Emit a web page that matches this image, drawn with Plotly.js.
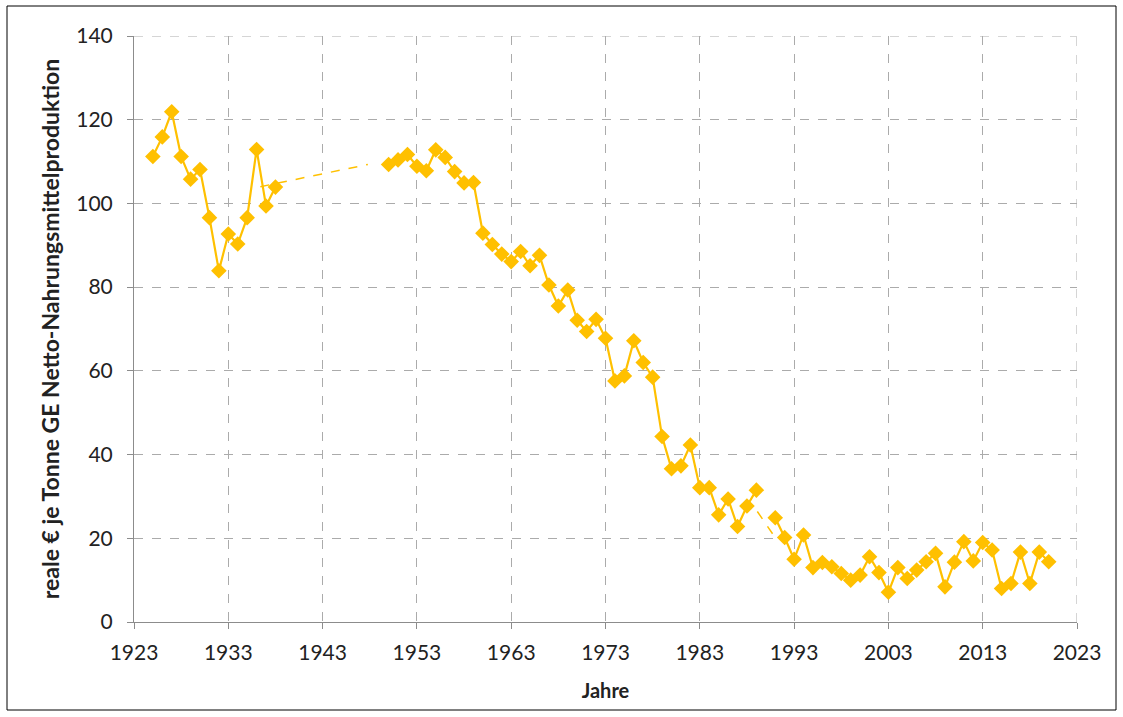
<!DOCTYPE html>
<html>
<head>
<meta charset="utf-8">
<script src="https://cdn.plot.ly/plotly-3.0.1.min.js"></script>
<style>
html,body{margin:0;padding:0;background:#fff;}
#chart{width:1123px;height:717px;}
</style>
</head>
<body>
<div id="chart"></div>
<script>
// Years (x values) of the main series
const years = [
  1925,1926,1927,1928,1929,1930,1931,1932,1933,1934,1935,1936,1937,1938,
  1939,1940,1941,1942,1943,1944,1945,1946,1947,1948,1949,
  1950,1951,1952,1953,1954,1955,1956,1957,1958,1959,
  1960,1961,1962,1963,1964,1965,1966,1967,1968,1969,
  1970,1971,1972,1973,1974,1975,1976,1977,1978,1979,
  1980,1981,1982,1983,1984,1985,1986,1987,1988,1989,
  1990,1991,1992,1993,1994,1995,1996,1997,1998,1999,
  2000,2001,2002,2003,2004,2005,2006,2007,2008,2009,
  2010,2011,2012,2013,2014,2015,2016,2017,2018,2019,2020
];
// real € per tonne GE net food production (null = no data)
const values = [
  111.2,115.9,121.9,111.2,105.8,108.1,96.6,83.9,92.7,90.3,96.6,112.9,99.4,103.9,
  null,null,null,null,null,null,null,null,null,null,null,
  109.3,110.4,111.7,108.9,107.8,112.8,111.0,107.6,104.9,105.0,
  92.9,90.2,87.9,86.1,88.5,85.1,87.6,80.5,75.5,79.3,
  72.1,69.4,72.3,67.8,57.6,58.8,67.2,62.0,58.5,44.3,
  36.6,37.3,42.3,32.1,32.1,25.6,29.4,22.8,27.7,31.5,
  null,24.9,20.2,15.0,20.8,13.0,14.2,13.2,11.6,10.0,
  11.2,15.6,11.8,7.1,13.0,10.4,12.4,14.4,16.4,8.4,
  14.3,19.2,14.6,19.0,17.2,8.0,9.2,16.7,9.2,16.7,14.4
];
// Dashed bridging segments over the data gaps
const bridgeWarYears = [1936.4, 1947.8];
const bridgeWarValues = [104.0, 109.3];
const bridgeReunifYears = [1989.1, 1990.8];
const bridgeReunifValues = [26.4, 20.8];

const xTicks = [1923,1933,1943,1953,1963,1973,1983,1993,2003,2013,2023];
const yTicks = [0,20,40,60,80,100,120,140];

const gold = '#FFC000';
const fontFam = 'Lato, "Open Sans", sans-serif';

const traces = [
  {x: bridgeWarYears, y: bridgeWarValues, mode: 'lines', type: 'scatter',
   line: {color: gold, width: 1.5, dash: 'dash'}, hoverinfo: 'skip', showlegend: false},
  {x: bridgeReunifYears, y: bridgeReunifValues, mode: 'lines', type: 'scatter',
   line: {color: gold, width: 1.5, dash: 'dash'}, hoverinfo: 'skip', showlegend: false},
  {x: years, y: values, mode: 'lines+markers', type: 'scatter', connectgaps: false,
   line: {color: gold, width: 2.2},
   marker: {symbol: 'diamond', size: 12, color: gold},
   showlegend: false}
];

const layout = {
  width: 1123, height: 717,
  margin: {l: 134, r: 46, t: 36, b: 95},
  paper_bgcolor: '#fff', plot_bgcolor: '#fff',
  font: {family: fontFam, color: '#222', size: 21},
  xaxis: {
    range: [1923, 2023], tickvals: xTicks, ticktext: xTicks.map(String),
    showgrid: true, gridcolor: '#ababab', griddash: 'dash', gridwidth: 1,
    showline: true, linecolor: '#8c8c8c', linewidth: 1,
    ticks: 'outside', ticklen: 6, tickcolor: '#8c8c8c',
    ticklabelstandoff: 6,
    zeroline: false, tickfont: {size: 21, family: fontFam, color: '#222'},
    title: {text: '<b>Jahre</b>', font: {size: 20, family: fontFam, color: '#222'}, standoff: 20}
  },
  yaxis: {
    range: [0, 140], tickvals: yTicks,
    showgrid: true, gridcolor: '#ababab', griddash: 'dash', gridwidth: 1,
    showline: true, linecolor: '#8c8c8c', linewidth: 1,
    ticks: 'outside', ticklen: 6, tickcolor: '#8c8c8c',
    ticklabelstandoff: 10,
    zeroline: false, tickfont: {size: 21, family: fontFam, color: '#222'},
    title: {text: '<b>reale € je Tonne GE Netto-Nahrungsmittelproduktion</b>', font: {size: 23, family: fontFam, color: '#222'}, standoff: 10}
  },
  shapes: [
    {type: 'line', xref: 'x', yref: 'paper', x0: 2023, x1: 2023, y0: 0, y1: 1,
     line: {color: '#ababab', width: 1, dash: 'dash'}},
    {type: 'line', xref: 'paper', yref: 'y', x0: 0, x1: 1, y0: 140, y1: 140,
     line: {color: '#ababab', width: 1, dash: 'dash'}},
    {type: 'rect', xref: 'paper', yref: 'paper',
     x0: (7 - 134) / 943, x1: (1116 - 134) / 943,
     y0: -(710 - 622) / 586, y1: 1 + (36 - 6) / 586,
     line: {color: '#000', width: 1}, fillcolor: 'rgba(0,0,0,0)', layer: 'below'}
  ]
};

Plotly.newPlot('chart', traces, layout, {displayModeBar: false, staticPlot: true});
</script>
</body>
</html>
